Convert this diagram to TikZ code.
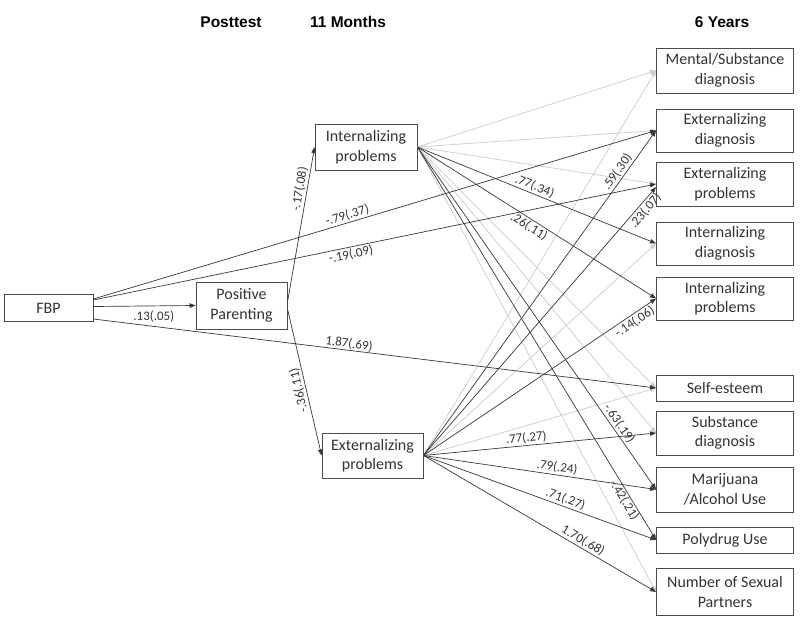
\documentclass[tikz,border=0pt]{standalone}
\usepackage{fontspec}
\setmainfont{Carlito}
\newfontfamily\hdrfont{Liberation Sans}
\usetikzlibrary{arrows.meta}
\definecolor{dk}{gray}{0.22}
\definecolor{lt}{gray}{0.80}
\definecolor{bd}{gray}{0.30}
\begin{document}
\begin{tikzpicture}[x=1pt,y=-1pt,
  box/.style={draw=bd, line width=0.8pt, fill=white, align=center, inner sep=0pt,
    font=\fontsize{16}{19.5}\selectfont, text=black!80},
  dkarr/.style={draw=dk, line width=0.7pt, -{Triangle[length=6pt,width=4.5pt]}},
  dkarrr/.style={draw=dk, line width=0.7pt, {Triangle[length=6pt,width=4.5pt]}-},
  ltarr/.style={draw=lt, line width=0.7pt, -{Triangle[length=6pt,width=4.5pt]}},
  lab/.style={font=\fontsize{13}{14}\selectfont, text=black!80, sloped, inner sep=1.5pt},
  hdr/.style={font=\hdrfont\bfseries\fontsize{15.5}{17}\selectfont}
]
\useasboundingbox (0,0) rectangle (800,620);
\fill[white] (0,0) rectangle (800,620);

% headers
\node[hdr] (h1) at (231,22) {Posttest};
\node[hdr] (h2) at (348,22) {11 Months};
\node[hdr] (h3) at (722,22) {6 Years};

% left nodes
\node[box, minimum width=89pt, minimum height=27pt] (fbp) at (48.5,308) {FBP};
\node[box, minimum width=91pt, minimum height=47pt] (pp) at (241.5,305.5) {Positive\\Parenting};
\node[box, minimum width=102pt, minimum height=46pt] (int) at (366,147) {Internalizing\\problems};
\node[box, minimum width=101pt, minimum height=45pt] (ext) at (372.5,455.5) {Externalizing\\problems};

% right nodes
\begin{scope}[every node/.style={box, minimum width=137pt}]
\node[minimum height=45pt] (ms) at (725,70.5) {Mental/Substance\\diagnosis};
\node[minimum height=43pt] (ed) at (725,130.5) {Externalizing\\diagnosis};
\node[minimum height=44pt] (ep) at (725,184) {Externalizing\\problems};
\node[minimum height=43pt] (id) at (725,243.5) {Internalizing\\diagnosis};
\node[minimum height=43pt] (ip) at (725,298.5) {Internalizing\\problems};
\node[minimum height=26pt] (se) at (725,388) {Self-esteem};
\node[minimum height=44pt] (sd) at (725,433) {Substance\\diagnosis};
\node[minimum height=45pt] (mj) at (725,489.5) {Marijuana\\/Alcohol Use};
\node[minimum height=26pt] (pd) at (725,540) {Polydrug Use};
\node[minimum height=47pt] (nsp) at (725,592) {Number of Sexual\\Partners};
\end{scope}

% light (non-significant) paths
\draw[ltarr] (int.east) -- (ms.west);
\draw[ltarr] (int.east) -- (ed.west);
\draw[ltarr] (int.east) -- (ep.west);
\draw[ltarr] (int.east) -- (se.west);
\draw[ltarr] (int.east) -- (sd.west);
\draw[ltarr] (int.east) -- (nsp.west);
\draw[ltarr] (ext.east) -- (ms.west);
\draw[ltarr] (ext.east) -- (id.west);
\draw[ltarr] (ext.east) -- (se.west);

% FBP paths
\draw[dkarr] ([yshift=1.5pt]fbp.east) -- node[lab, below=3pt, pos=0.59]{.13(.05)} (pp.west);
\draw[dkarr] ([yshift=9pt]fbp.east) -- node[lab, above, pos=0.455]{-.79(.37)} (ed.west);
\draw[dkarr] ([yshift=8pt]fbp.east) -- node[lab, below, pos=0.455]{-.19(.09)} (ep.west);
\draw[dkarr] ([yshift=-11pt]fbp.east) -- node[lab, above, pos=0.453, inner sep=0.5pt]{1.87(.69)} (se.west);

% Positive parenting paths
\draw[dkarr] ([yshift=3pt]pp.east) -- node[lab, above, pos=0.72]{-.17(.08)} (int.west);
\draw[dkarrr] (ext.west) -- node[lab, above, pos=0.455, allow upside down]{-.36(.11)} ([yshift=-3pt]pp.east);

% Internalizing paths
\draw[dkarr] (int.east) -- node[lab, above, pos=0.48]{.77(.34)} (id.west);
\draw[dkarr] (int.east) -- node[lab, below, pos=0.485]{.26(.11)} (ip.west);
\draw[dkarr] (int.east) -- node[lab, above, pos=0.82]{-.63(.19)} (mj.west);
\draw[dkarr] (int.east) -- node[lab, below, pos=0.89, inner sep=0.5pt]{-.42(.21)} (pd.west);

% Externalizing paths
\draw[dkarr] (ext.east) -- node[lab, above, pos=0.86]{.59(.30)} (ed.west);
\draw[dkarr] (ext.east) -- node[lab, below, pos=0.93]{.23(.07)} ([yshift=-3pt]ep.west);
\draw[dkarr] (ext.east) -- node[lab, below, pos=0.89]{-.14(.06)} (ip.west);
\draw[dkarr] (ext.east) -- node[lab, above, pos=0.445]{.77(.27)} (sd.west);
\draw[dkarr] (ext.east) -- node[lab, above, pos=0.57]{.79(.24)} (mj.west);
\draw[dkarr] (ext.east) -- node[lab, above, pos=0.6]{.71(.27)} (pd.west);
\draw[dkarr] (ext.east) -- node[lab, above, pos=0.67]{1.70(.68)} (nsp.west);
\end{tikzpicture}
\end{document}
